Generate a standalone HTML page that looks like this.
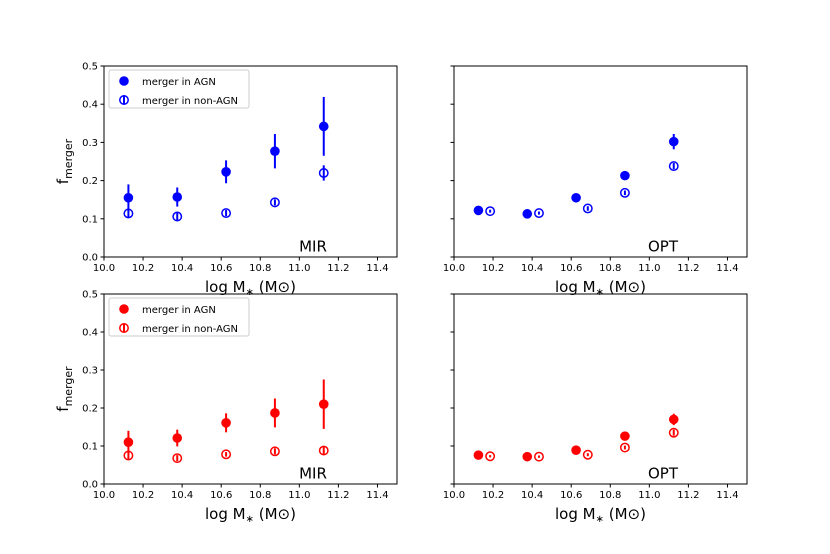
<!DOCTYPE html>
<html><head><meta charset="utf-8"><style>
body{margin:0;background:#fff}
svg{display:block;font-family:"DejaVu Sans","Liberation Sans",sans-serif}
</style></head><body>
<svg id="fig" width="830" height="554" viewBox="0 0 830 554"></svg>
<script>
const xs=[10.125,10.375,10.625,10.875,11.125];
const xsOff=[10.185,10.435,10.685,10.875,11.125];
const mirAgnTop=[0.155,0.157,0.223,0.277,0.342];
const mirAgnTopErr=[0.035,0.025,0.03,0.045,0.077];
const mirNonTop=[0.114,0.106,0.115,0.143,0.220];
const mirNonTopErr=[0.012,0.01,0.008,0.008,0.02];
const optAgnTop=[0.122,0.113,0.155,0.213,0.302];
const optAgnTopErr=[0.005,0.005,0.008,0.008,0.02];
const optNonTop=[0.120,0.115,0.127,0.168,0.238];
const optNonTopErr=[0.004,0.004,0.006,0.006,0.008];
const mirAgnBot=[0.110,0.121,0.161,0.187,0.210];
const mirAgnBotErr=[0.03,0.022,0.025,0.038,0.065];
const mirNonBot=[0.075,0.068,0.078,0.086,0.088];
const mirNonBotErr=[0.01,0.008,0.006,0.008,0.01];
const optAgnBot=[0.076,0.072,0.089,0.126,0.170];
const optAgnBotErr=[0.003,0.003,0.005,0.005,0.015];
const optNonBot=[0.073,0.072,0.077,0.096,0.135];
const optNonBotErr=[0.003,0.003,0.004,0.005,0.008];
const xTicks=[10.0,10.2,10.4,10.6,10.8,11.0,11.2,11.4];
const yTicks=[0.0,0.1,0.2,0.3,0.4,0.5];

const svg=document.getElementById('fig');
const NS='http://www.w3.org/2000/svg';
function mk(tag,attrs,parent,txt){const e=document.createElementNS(NS,tag);for(const k in attrs)e.setAttribute(k,attrs[k]);if(txt!==undefined)e.textContent=txt;(parent||svg).appendChild(e);return e;}

function panel(name,L,T,R,B,showY,label,agn,agnErr,non,nonErr,nonX,color,legend){
  const g=mk('g',{});
  
  
  const sx=v=>L+(v-10)/1.5*(R-L);
  const sy=v=>B-(v/0.5)*(B-T);
  mk('rect',{x:L,y:T,width:R-L,height:B-T,fill:'none',stroke:'#000','stroke-width':1},g);
  xTicks.forEach(t=>{const x=sx(t);mk('line',{x1:x,y1:B,x2:x,y2:B+3.5,stroke:'#000'},g);
    const tl=mk('text',{x:x,y:B+14,'font-size':10,'text-anchor':'middle'},g,t.toFixed(1));
    });
  yTicks.forEach(t=>{const y=sy(t);mk('line',{x1:L,y1:y,x2:L-3.5,y2:y,stroke:'#000'},g);
    if(showY){const tl=mk('text',{x:L-6,y:y+3.5,'font-size':10,'text-anchor':'end'},g,t.toFixed(1));
    }});
  const xl=mk('text',{x:(L+R)/2,y:B+35,'font-size':15,'text-anchor':'middle'},g);
  
  mk('tspan',{},xl,'log M');mk('tspan',{'font-size':10,dy:3},xl,'\u2217');mk('tspan',{dy:-3},xl,' (M\u2299)');
  if(showY){const yl=mk('text',{transform:`translate(${L-36},${(T+B)/2}) rotate(-90)`,'font-size':15,'text-anchor':'middle'},g);
    
    mk('tspan',{},yl,'f');mk('tspan',{'font-size':11,dy:4},yl,'merger');}
  const pl=mk('text',{x:sx(11.07),y:sy(0.015),'font-size':15,'text-anchor':'middle'},g,label);
  
  xs.forEach((v,i)=>{const x=sx(v),y=sy(agn[i]);
    mk('line',{x1:x,y1:sy(agn[i]-agnErr[i]),x2:x,y2:sy(agn[i]+agnErr[i]),stroke:color,'stroke-width':2},g);
    const c=mk('circle',{cx:x,cy:y,r:4.8,fill:color},g);
    });
  nonX.forEach((v,i)=>{const x=sx(v),y=sy(non[i]);
    mk('line',{x1:x,y1:sy(non[i]-nonErr[i]),x2:x,y2:sy(non[i]+nonErr[i]),stroke:color,'stroke-width':2},g);
    const c=mk('circle',{cx:x,cy:y,r:4.2,fill:'none',stroke:color,'stroke-width':1.5},g);
    });
  if(legend){const lg=mk('g',{},g);
    
    mk('rect',{x:L+5,y:T+4,width:140,height:38,rx:2,fill:'#fff',stroke:'#ccc'},lg);
    mk('circle',{cx:L+20,cy:T+15,r:4.8,fill:color},lg);
    mk('line',{x1:L+20,y1:T+30,x2:L+20,y2:T+38,stroke:color,'stroke-width':2},lg);
    mk('circle',{cx:L+20,cy:T+34,r:4.2,fill:'none',stroke:color,'stroke-width':1.5},lg);
    const a=mk('text',{x:L+38,y:T+19,'font-size':10},lg,'merger in AGN');
    
    const b=mk('text',{x:L+38,y:T+38,'font-size':10},lg,'merger in non-AGN');
    }
}
panel('panel-top-mir',104,66,397,257,true,'MIR',mirAgnTop,mirAgnTopErr,mirNonTop,mirNonTopErr,xs,'#0000ff',true);
panel('panel-top-opt',454,66,747,257,false,'OPT',optAgnTop,optAgnTopErr,optNonTop,optNonTopErr,xsOff.map((v,i)=>i<3?v:xs[i]),'#0000ff',false);
panel('panel-bottom-mir',104,294,397,484,true,'MIR',mirAgnBot,mirAgnBotErr,mirNonBot,mirNonBotErr,xs,'#ff0000',true);
panel('panel-bottom-opt',454,294,747,484,false,'OPT',optAgnBot,optAgnBotErr,optNonBot,optNonBotErr,xsOff.map((v,i)=>i<3?v:xs[i]),'#ff0000',false);
</script>
</body></html>
